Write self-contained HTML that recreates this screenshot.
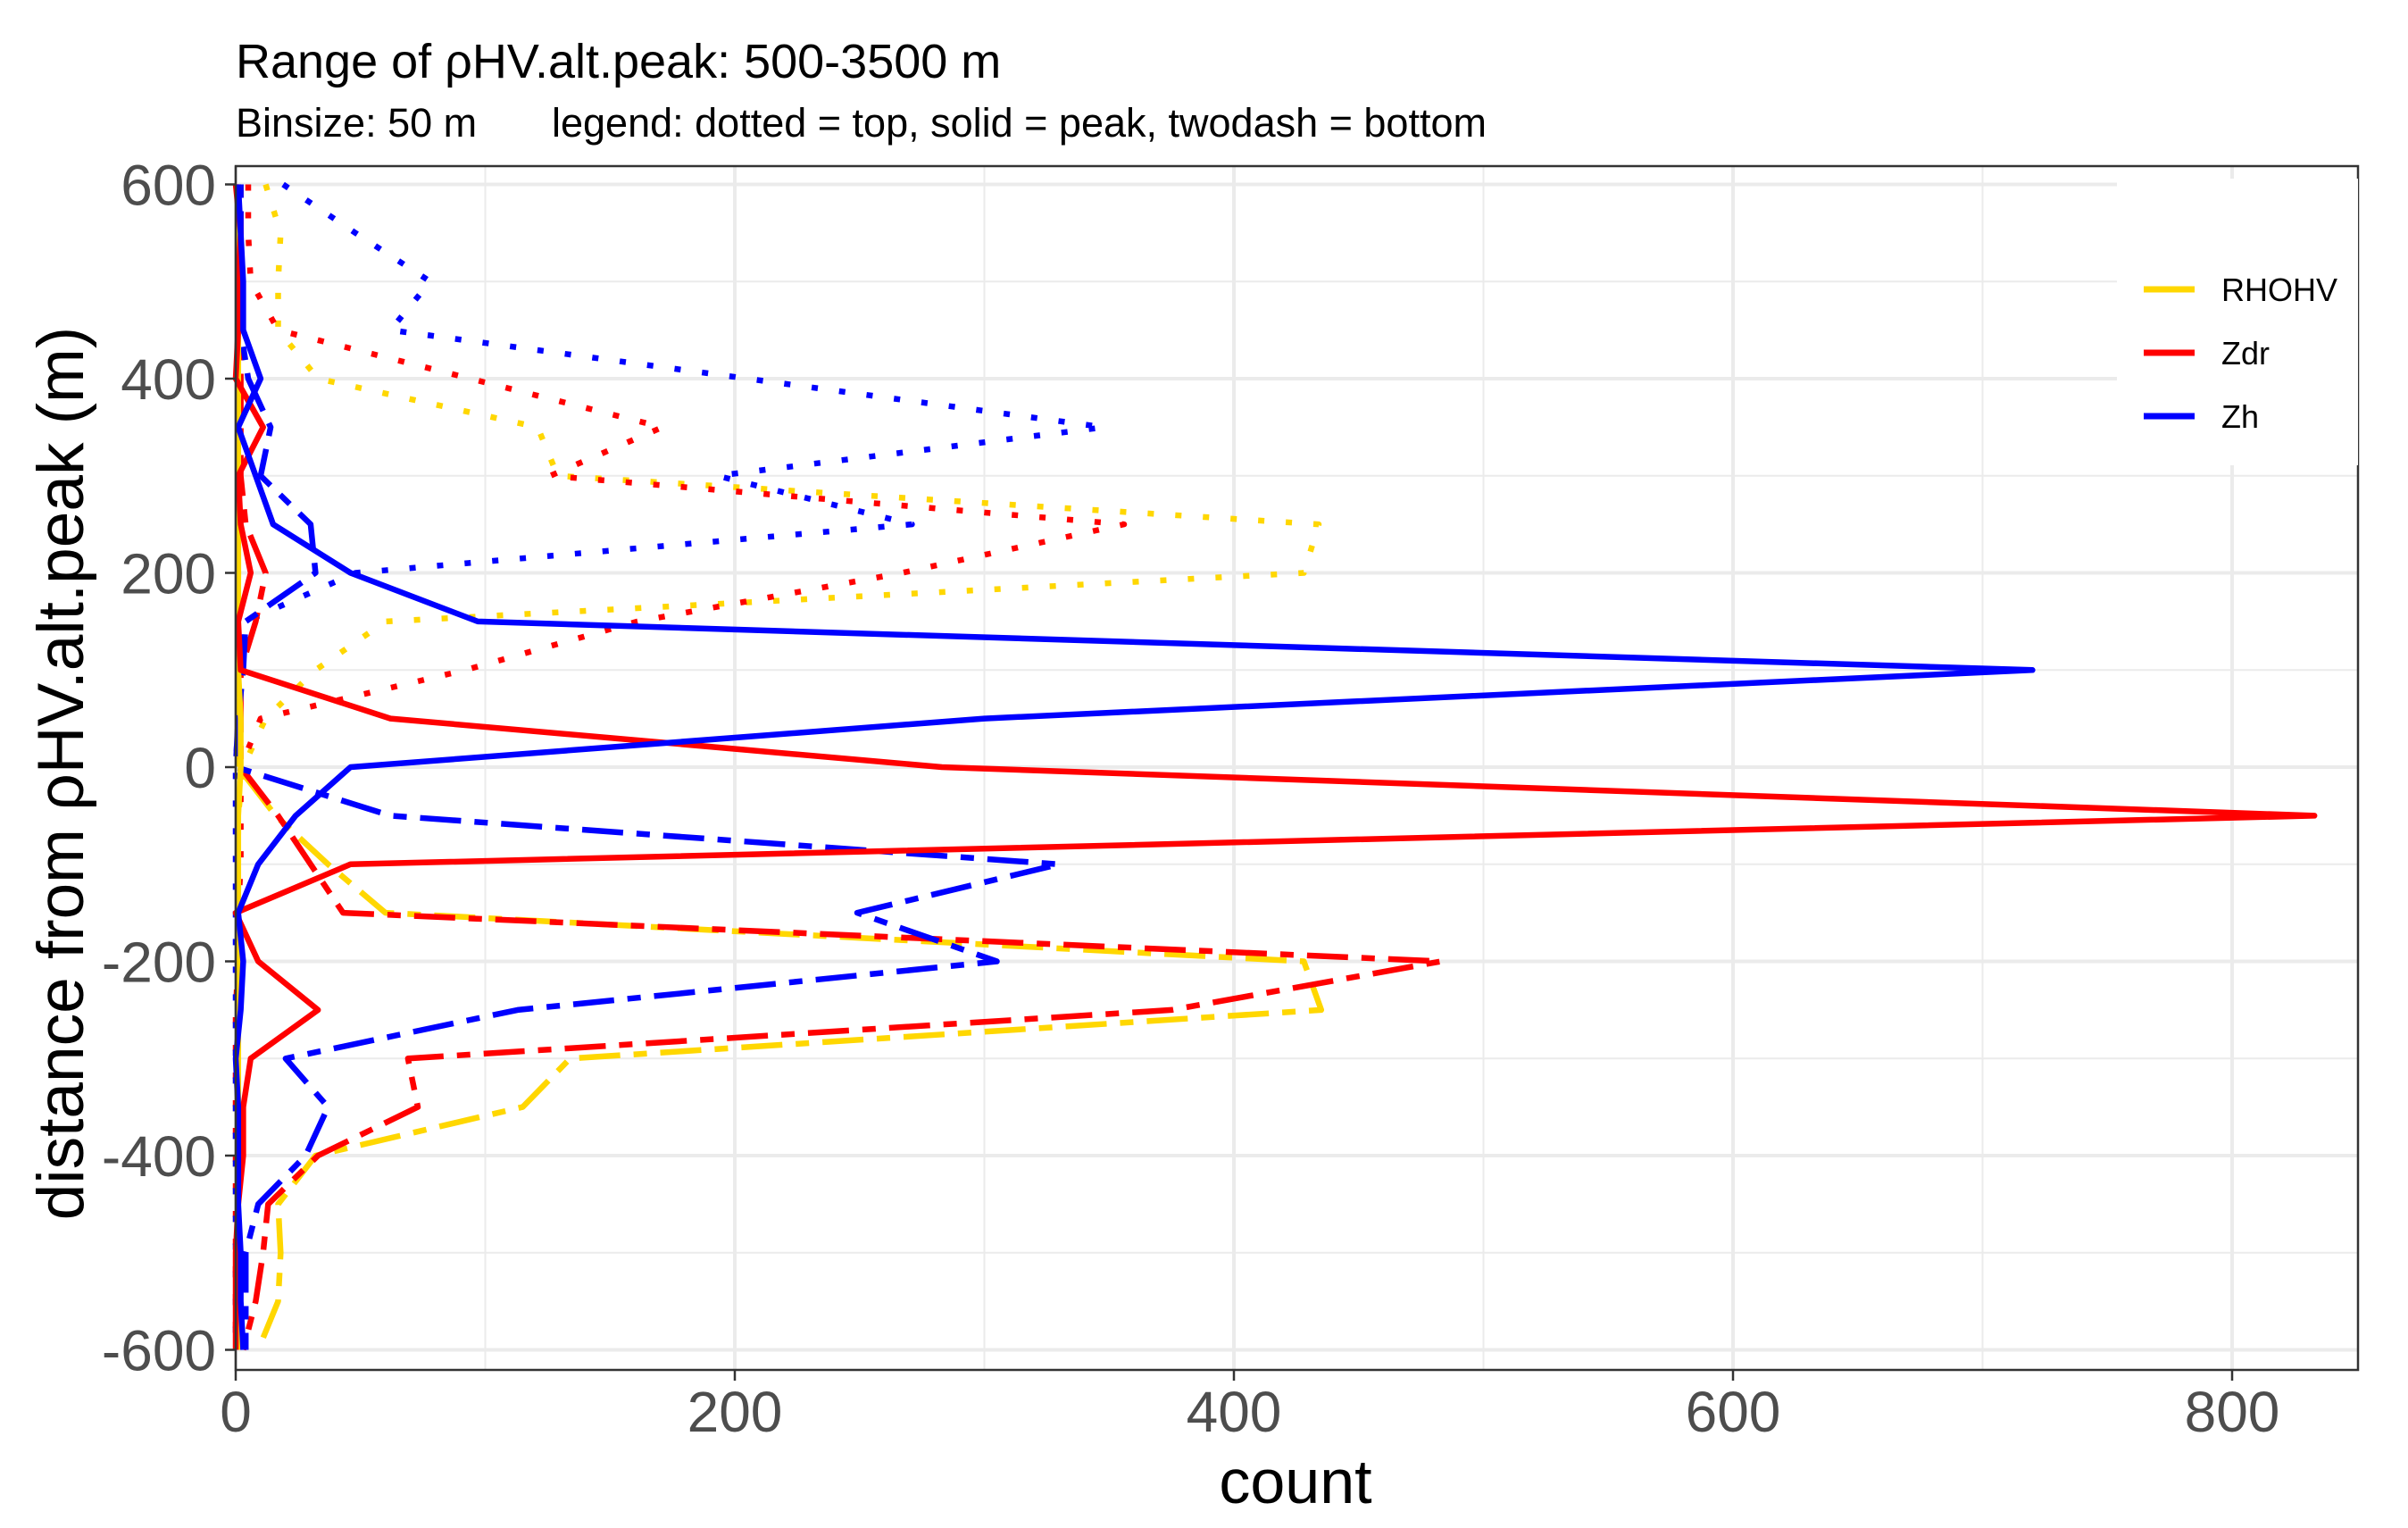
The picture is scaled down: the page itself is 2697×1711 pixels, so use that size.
<!DOCTYPE html>
<html><head><meta charset="utf-8"><style>
html,body{margin:0;padding:0;background:#fff;}
svg{display:block;font-family:"Liberation Sans",Arial,sans-serif;}
</style></head><body>
<svg id="chart" width="2697" height="1711" viewBox="0 0 2697 1711" xmlns="http://www.w3.org/2000/svg">
<rect x="0" y="0" width="2697" height="1711" fill="#fff"/>
<text x="264" y="87" font-size="54" fill="#000">Range of ρHV.alt.peak: 500-3500 m</text>
<text x="264" y="153" font-size="45" fill="#000">Binsize: 50 m</text>
<text x="618" y="153" font-size="45" fill="#000">legend: dotted = top, solid = peak, twodash = bottom</text>
<g id="grid"></g>
<g id="series"></g>
<rect x="264" y="186" width="2377" height="1348" fill="none" stroke="#333" stroke-width="2.5"/>
<g id="axes"></g>
<text x="1451" y="1683" font-size="70" text-anchor="middle" fill="#000">count</text>
<text transform="translate(93,866) rotate(-90)" font-size="73" text-anchor="middle" fill="#000">distance from ρHV.alt.peak (m)</text>
<g id="legend"></g>
</svg>
<script>
const distances = [600,550,500,450,400,350,300,250,200,150,100,50,0,-50,-100,-150,-200,-250,-300,-350,-400,-450,-500,-550,-600];
const xTicks = [0,200,400,600,800];
const xTickLabels = ["0","200","400","600","800"];
const yTicks = [600,400,200,0,-200,-400,-600];
const yTickLabels = ["600","400","200","0","-200","-400","-600"];
const legendLabels = ["RHOHV","Zdr","Zh"];

const rhoTop = [12,18,17,17,33,121,129,434,428,60,32,12,3,1,1,1,1,0,0,0,0,0,0,0,0];
const zdrTop = [5,5,6,17,94,171,126,356,267,161,92,10,2,2,2,1,1,0,0,0,0,0,0,0,0];
const zhTop  = [19,48,78,62,205,348,193,271,48,4,2,1,0,0,0,0,0,0,0,0,0,0,0,0,0];
const rhoPeak = [1,1,1,1,1,1,1,1,1,1,1,2,2,1,1,1,1,1,1,1,1,1,1,1,1];
const zdrPeak = [0,2,1,1,0,11,1,2,6,1,2,62,283,833,46,0,9,33,6,3,3,1,0,0,0];
const zhPeak  = [1,2,3,3,10,1,8,15,46,97,720,300,46,24,9,1,3,2,0,1,1,1,2,2,3];
const rhoBottom = [1,1,1,1,1,1,1,1,1,1,1,1,1,16,37,60,428,435,134,115,32,17,18,17,9];
const zdrBottom = [2,2,2,2,2,2,2,4,12,8,2,2,2,17,30,43,483,375,69,73,33,13,11,8,3];
const zhBottom  = [2,2,2,2,5,14,10,30,32,4,3,1,0,62,330,249,305,113,20,37,28,9,4,4,4];

const NS = "http://www.w3.org/2000/svg";
const X0 = 264, XPER = 559/200;
const Y0 = 859, YPER = 217.5/200;
function xs(v){ return X0 + v*XPER; }
function ys(v){ return Y0 - v*YPER; }
function mk(tag, attrs, parent){
  const el = document.createElementNS(NS, tag);
  for (const k in attrs) el.setAttribute(k, attrs[k]);
  parent.appendChild(el);
  return el;
}
const PL=264, PR=2641, PT=186, PB=1534;
const grid = document.getElementById('grid');
for (let v=100; v<=900; v+=200){
  const x=xs(v); if (x>PR) continue;
  const l = mk('line',{x1:x,x2:x,y1:PT,y2:PB,stroke:'#ebebeb','stroke-width':2},grid);
  
  
}
for (let v=-500; v<=500; v+=200){
  const y=ys(v);
  const l = mk('line',{x1:PL,x2:PR,y1:y,y2:y,stroke:'#ebebeb','stroke-width':2},grid);
  
  
}
xTicks.forEach(v=>{
  const x=xs(v);
  const l = mk('line',{x1:x,x2:x,y1:PT,y2:PB,stroke:'#ebebeb','stroke-width':4},grid);
  
  
});
yTicks.forEach(v=>{
  const y=ys(v);
  const l = mk('line',{x1:PL,x2:PR,y1:y,y2:y,stroke:'#ebebeb','stroke-width':4},grid);
  
  
});
const axes = document.getElementById('axes');
xTicks.forEach((v,i)=>{
  const x=xs(v);
  const t = mk('line',{x1:x,x2:x,y1:PB,y2:PB+12,stroke:'#333','stroke-width':2.5},axes);
  
  
  const tx = mk('text',{x:x,y:1603,'font-size':64,'text-anchor':'middle',fill:'#4d4d4d'},axes);
  tx.textContent = xTickLabels[i];
  
  
});
yTicks.forEach((v,i)=>{
  const y=ys(v);
  const t = mk('line',{x1:PL-12,x2:PL,y1:y,y2:y,stroke:'#333','stroke-width':2.5},axes);
  
  
  const tx = mk('text',{x:242,y:y+23,'font-size':64,'text-anchor':'end',fill:'#4d4d4d'},axes);
  tx.textContent = yTickLabels[i];
  
  
});
const DOT = '7 24', TWODASH = '15 15 46 15';
const seriesDefs = [
  {vals:rhoTop, color:'#FFD700', dash:DOT, name:'rhohv-top-line'},
  {vals:zdrTop, color:'#FF0000', dash:DOT, name:'zdr-top-line'},
  {vals:zhTop, color:'#0000FF', dash:DOT, name:'zh-top-line'},
  {vals:rhoBottom, color:'#FFD700', dash:TWODASH, name:'rhohv-bottom-line'},
  {vals:zdrBottom, color:'#FF0000', dash:TWODASH, name:'zdr-bottom-line'},
  {vals:zhBottom, color:'#0000FF', dash:TWODASH, name:'zh-bottom-line'},
  {vals:rhoPeak, color:'#FFD700', dash:'none', name:'rhohv-peak-line'},
  {vals:zdrPeak, color:'#FF0000', dash:'none', name:'zdr-peak-line'},
  {vals:zhPeak, color:'#0000FF', dash:'none', name:'zh-peak-line'}
];
const sg = document.getElementById('series');
seriesDefs.forEach(s=>{
  const pts = s.vals.map((v,i)=>xs(v).toFixed(1)+','+ys(distances[i]).toFixed(1)).join(' ');
  const attrs = {points:pts,fill:'none',stroke:s.color,'stroke-width':6.5,'stroke-linejoin':'round'};
  if (s.dash!=='none') attrs['stroke-dasharray']=s.dash;
  const p = mk('polyline',attrs,sg);
  
  
});
const lg = document.getElementById('legend');
const bg = mk('rect',{x:2371,y:200,width:270,height:321,fill:'#fff'},lg);


const lcolors = ['#FFD700','#FF0000','#0000FF'];
legendLabels.forEach((lab,i)=>{
  const y = 324 + i*71;
  const l = mk('line',{x1:2401,x2:2458,y1:y,y2:y,stroke:lcolors[i],'stroke-width':7},lg);
  
  
  const t = mk('text',{x:2488,y:y+13,'font-size':36,fill:'#000'},lg);
  t.textContent = lab;
  
  
});
</script>
</body></html>
